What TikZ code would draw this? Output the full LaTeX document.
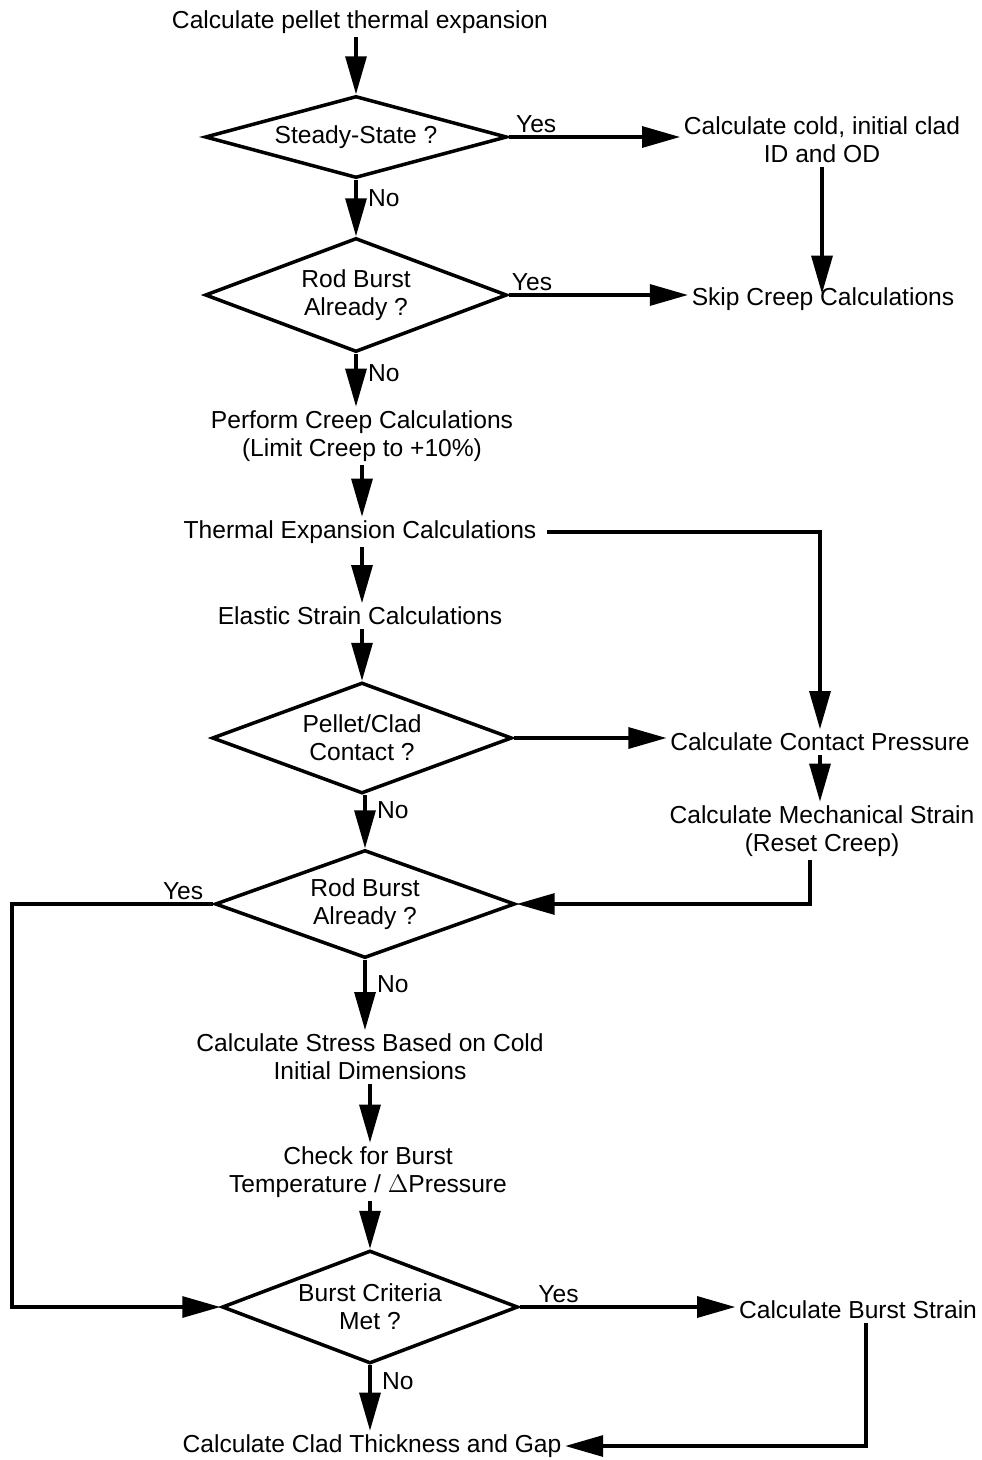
\documentclass[tikz,border=0pt]{standalone}
\usepackage{fontspec}
\setmainfont{Liberation Sans}
\usetikzlibrary{shapes.geometric,arrows.meta}

\begin{document}
\begin{tikzpicture}[x=0.02cm,y=-0.02cm,
    every node/.style={font=\fontsize{14}{16}\selectfont},
    calcbox/.style={inner sep=2pt, align=center},
    decision/.style={diamond, draw, line width=2pt, inner sep=0pt,
                     aspect=2.7, align=center},
    flow/.style={line width=1.8pt, -{Triangle[length=0.76cm,width=0.42cm]}},
    answer/.style={inner sep=1.5pt},
    noanswer/.style={inner sep=1.5pt, right, xshift=0.16cm}]

% ---- page frame ----
\useasboundingbox (0,0) rectangle (982,1460);

% ---- main column ----
\node[calcbox] (pellet) at (360,22) {Calculate pellet thermal expansion};
\node[decision, minimum width=6.04cm, minimum height=1.64cm, aspect=3.6]
  (steady) at (356,137) {Steady-State ?};
\node[decision, minimum width=6.04cm, minimum height=2.28cm]
  (burstA) at (356,295) {Rod Burst\\Already ?};
\node[calcbox] (creep) at (362,436) {Perform Creep Calculations\\(Limit Creep to +10\%)};
\node[calcbox] (thermal) at (360,532) {Thermal Expansion Calculations};
\node[calcbox] (elastic) at (360,616) {Elastic Strain Calculations};
\node[decision, minimum width=6.0cm, minimum height=2.22cm]
  (contact) at (362,738) {Pellet/Clad\\Contact ?};
\node[decision, minimum width=6.0cm, minimum height=2.16cm]
  (burstB) at (365,904) {Rod Burst\\Already ?};
\node[calcbox] (stress) at (370,1057) {Calculate Stress Based on Cold\\Initial Dimensions};
\node[calcbox] (check) at (368,1172) {Check for Burst\\Temperature / $\Delta$Pressure};
\node[decision, minimum width=5.92cm, minimum height=2.26cm, aspect=2.8]
  (criteria) at (370,1307) {Burst Criteria\\Met ?};
\node[calcbox] (gap) at (372,1446) {Calculate Clad Thickness and Gap};

% ---- right column ----
\node[calcbox] (cold) at (822,140) {Calculate cold, initial clad\\ID and OD};
\node[calcbox] (skip) at (823,299) {Skip Creep Calculations};
\node[calcbox] (pressure) at (820,742) {Calculate Contact Pressure};
\node[calcbox] (mech) at (822,831) {Calculate Mechanical Strain\\(Reset Creep)};
\node[calcbox] (bstrain) at (858,1310) {Calculate Burst Strain};

% left rail for the burst bypass
\coordinate (leftrail) at (12,0);

% ---- connectors ----
\draw[flow] (pellet.south -| steady.north) -- (steady.north);
\draw[flow] (steady.east) -- node[answer, above, pos=0.16] {Yes} (steady.east -| cold.west);
\draw[flow] (cold.south) -- ([yshift=-0.2cm]cold.south |- skip.north);
\draw[flow] (steady.south) -- node[noanswer, pos=0.32] {No} (burstA.north);
\draw[flow] (burstA.east) -- node[answer, above, pos=0.13] {Yes} (burstA.east -| skip.west);
\draw[flow] (burstA.south) -- node[noanswer, pos=0.36] {No} (burstA.south |- creep.north);
\draw[flow] (creep.south) -- (creep.south |- thermal.north);
\draw[flow] ([xshift=4pt]thermal.east) -| (pressure.north);
\draw[flow] ([xshift=0.04cm]thermal.south) -- ([xshift=0.04cm]elastic.north);
\draw[flow] (elastic.south -| contact.north) -- (contact.north);
\draw[flow] (contact.east) -- (contact.east -| pressure.west);
\draw[flow] (pressure.south) -- (pressure.south |- mech.north);
\draw[flow] ([xshift=-0.24cm]mech.south) |- (burstB.east);
\draw[flow] (contact.south -| burstB.north) -- node[noanswer, pos=0.29] {No} (burstB.north);
\draw[flow] (burstB.west) -- node[answer, above, pos=0.15] {Yes} (burstB.west -| leftrail)
  |- (criteria.west);
\draw[flow] (burstB.south) -- node[noanswer, pos=0.35] {No} (burstB.south |- stress.north);
\draw[flow] (stress.south) -- (stress.south |- check.north);
\draw[flow] (check.south -| criteria.north) -- (criteria.north);
\draw[flow] (criteria.east) -- node[answer, above, pos=0.18] {Yes} (criteria.east -| bstrain.west);
\draw[flow] (criteria.south) -- node[noanswer, pos=0.25] {No} (criteria.south |- gap.north);
\draw[flow] ([xshift=0.16cm]bstrain.south) |- (gap.east);

\end{tikzpicture}
\end{document}
